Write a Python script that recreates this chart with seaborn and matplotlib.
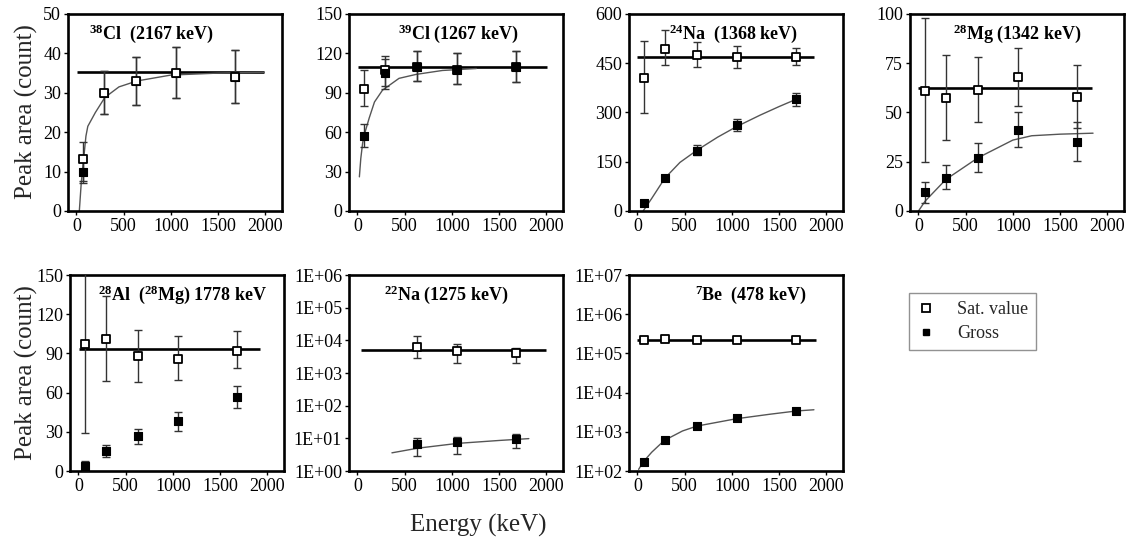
import numpy as np
import seaborn as sns
import matplotlib.pyplot as plt
from matplotlib.lines import Line2D
from matplotlib.ticker import NullLocator

# irradiation energies
energy = [70, 290, 635, 1055, 1685]
energy_na22 = [635, 1055, 1685]

# 38Cl
cl38_sat = [13.3, 30, 33, 35, 34]
cl38_sat_lo = [7, 24.5, 27, 28.7, 27.5]
cl38_sat_hi = [17.5, 35.5, 39, 41.5, 40.8]
cl38_gross = [10, 30, 33, 35, 34]
cl38_gross_lo = [7.5, 24.5, 27, 28.7, 27.5]
cl38_gross_hi = [12.5, 35.5, 39, 41.5, 40.8]
cl38_fit_x = [30, 50, 75, 100, 120, 200, 300, 450, 640, 1000, 1500, 1990]
cl38_fit_y = [0, 7, 13, 19, 21.5, 25, 28.8, 31.5, 33, 34.5, 35, 35.2]

# 39Cl
cl39_sat = [93, 107, 110, 107.5, 110]
cl39_sat_lo = [80, 95, 99, 97, 98]
cl39_sat_hi = [107, 118, 122, 120, 122]
cl39_gross = [57, 105, 110, 107.5, 110]
cl39_gross_lo = [49, 93, 99, 97, 98]
cl39_gross_hi = [66, 116, 122, 120, 122]
cl39_fit_x = [20, 35, 55, 80, 125, 180, 265, 440, 620, 900, 1260]
cl39_fit_y = [26, 40, 52, 60, 71, 83, 92, 101, 104, 107, 108.5]

# 24Na
na24_sat = [404, 492, 474, 468, 468]
na24_sat_lo = [297, 445, 438, 437, 445]
na24_sat_hi = [519, 550, 515, 502, 495]
na24_gross = [25, 100, 183, 262, 340]
na24_gross_lo = [18, 92, 170, 245, 320]
na24_gross_hi = [32, 108, 200, 280, 360]
na24_fit_x = [60, 150, 290, 450, 630, 850, 1050, 1300, 1500, 1720]
na24_fit_y = [0, 38, 100, 148, 185, 225, 257, 292, 318, 345]

# 28Mg
mg28_sat = [61, 57.5, 61.5, 68, 58]
mg28_sat_lo = [25, 36, 45, 53.5, 42]
mg28_sat_hi = [98, 79, 78, 82.5, 74]
mg28_gross = [9.5, 17, 27, 41, 35]
mg28_gross_lo = [4, 11, 20, 32.5, 25.5]
mg28_gross_hi = [14.5, 23.5, 34.5, 50, 45]
mg28_fit_x = [0, 70, 290, 630, 1000, 1200, 1500, 1850]
mg28_fit_y = [0, 5, 16, 27, 36, 38.2, 39, 39.5]

# 28Al (28Mg)
al28_sat = [97, 101, 88, 86, 92]
al28_sat_lo = [29, 69, 68, 70, 79]
al28_sat_hi = [175, 134, 108, 103.5, 107]
al28_gross = [4, 15, 26.5, 38.5, 57]
al28_gross_lo = [1, 10.5, 20.5, 30.5, 48]
al28_gross_hi = [8, 20, 32, 45.5, 65]

# 22Na
na22_sat = [6400, 4800, 4000]
na22_sat_lo = [2950, 2080, 2080]
na22_sat_hi = [13500, 7500, 5700]
na22_gross = [6.7, 7.5, 9.3]
na22_gross_lo = [2.9, 3.3, 4.9]
na22_gross_hi = [10, 11.3, 13.5]
na22_fit_x = [365, 640, 1060, 1500, 1816]
na22_fit_y = [3.6, 5.0, 7.0, 8.6, 9.8]

# 7Be
be7_sat = [2.2e5, 2.35e5, 2.2e5, 2.2e5, 2.2e5]
be7_gross = [169, 610, 1380, 2200, 3440]
be7_fit_x = [12, 60, 150, 283, 477, 630, 1046, 1400, 1685, 1870]
be7_fit_y = [110, 170, 300, 600, 1050, 1400, 2150, 2800, 3400, 3650]

# saturation levels (horizontal lines) and their extent
sat_levels = [35.3, 110, 470, 62.5, 93, 5000, 2.17e5]
sat_spans = [(10, 1990), (10, 2010), (0, 1870), (0, 1840), (10, 1920), (35, 2000), (0, 1890)]

titles = [r'$^{38}$Cl  (2167 keV)', r'$^{39}$Cl (1267 keV)', r'$^{24}$Na  (1368 keV)',
          r'$^{28}$Mg (1342 keV)', r'$^{28}$Al  ($^{28}$Mg) 1778 keV', r'$^{22}$Na (1275 keV)',
          r'$^{7}$Be  (478 keV)']
yticks_list = [[0, 10, 20, 30, 40, 50], [0, 30, 60, 90, 120, 150], [0, 150, 300, 450, 600],
               [0, 25, 50, 75, 100], [0, 30, 60, 90, 120, 150],
               [1e0, 1e1, 1e2, 1e3, 1e4, 1e5, 1e6], [1e2, 1e3, 1e4, 1e5, 1e6, 1e7]]
log_labels_na22 = ['1E+00', '1E+01', '1E+02', '1E+03', '1E+04', '1E+05', '1E+06']
log_labels_be7 = ['1E+02', '1E+03', '1E+04', '1E+05', '1E+06', '1E+07']
xticks = [0, 500, 1000, 1500, 2000]

sns.set_theme(style='ticks')
plt.rcParams['font.family'] = ['Liberation Serif', 'DejaVu Serif']
plt.rcParams['mathtext.default'] = 'regular'

W, H = 1133, 542
fig = plt.figure(figsize=(W / 100, H / 100), dpi=100)

def rect(left, top, right, bottom):
    return [left / W, 1 - bottom / H, (right - left) / W, (bottom - top) / H]

rects = [rect(68, 14, 282, 211), rect(349, 14, 563, 211), rect(629, 14, 843, 211),
         rect(910, 14, 1124, 211), rect(70, 275, 284, 471), rect(349, 275, 563, 471),
         rect(629, 275, 843, 471)]
title_x = [0.10, 0.51, 0.49, 0.50, 0.525, 0.455, 0.57]
title_ha = ['left', 'center', 'center', 'center', 'center', 'center', 'center']

panels = [
    dict(E=energy, sat=cl38_sat, slo=cl38_sat_lo, shi=cl38_sat_hi, gross=cl38_gross,
         glo=cl38_gross_lo, ghi=cl38_gross_hi, fx=cl38_fit_x, fy=cl38_fit_y, gross_top=False),
    dict(E=energy, sat=cl39_sat, slo=cl39_sat_lo, shi=cl39_sat_hi, gross=cl39_gross,
         glo=cl39_gross_lo, ghi=cl39_gross_hi, fx=cl39_fit_x, fy=cl39_fit_y, gross_top=True),
    dict(E=energy, sat=na24_sat, slo=na24_sat_lo, shi=na24_sat_hi, gross=na24_gross,
         glo=na24_gross_lo, ghi=na24_gross_hi, fx=na24_fit_x, fy=na24_fit_y, gross_top=False),
    dict(E=energy, sat=mg28_sat, slo=mg28_sat_lo, shi=mg28_sat_hi, gross=mg28_gross,
         glo=mg28_gross_lo, ghi=mg28_gross_hi, fx=mg28_fit_x, fy=mg28_fit_y, gross_top=False),
    dict(E=energy, sat=al28_sat, slo=al28_sat_lo, shi=al28_sat_hi, gross=al28_gross,
         glo=al28_gross_lo, ghi=al28_gross_hi, fx=None, fy=None, gross_top=False),
    dict(E=energy_na22, sat=na22_sat, slo=na22_sat_lo, shi=na22_sat_hi, gross=na22_gross,
         glo=na22_gross_lo, ghi=na22_gross_hi, fx=na22_fit_x, fy=na22_fit_y, gross_top=False),
    dict(E=energy, sat=be7_sat, slo=None, shi=None, gross=be7_gross,
         glo=None, ghi=None, fx=be7_fit_x, fy=be7_fit_y, gross_top=False),
]

ebar = dict(fmt='none', ecolor='#333333', elinewidth=1.0, capsize=2.8, capthick=1.0)

for i, p in enumerate(panels):
    ax = fig.add_axes(rects[i])
    is_log = i >= 5
    if is_log:
        ax.set_yscale('log')
    E = np.array(p['E'])
    sat = np.array(p['sat'])
    gross = np.array(p['gross'])

    ax.hlines(sat_levels[i], *sat_spans[i], color='black', lw=1.9, zorder=2)
    if p['fx'] is not None:
        sns.lineplot(x=p['fx'], y=p['fy'], sort=False, estimator=None,
                     color='#555555', lw=1.0, ax=ax, zorder=2)
    if p['slo'] is not None:
        ax.errorbar(E, sat, yerr=[sat - np.array(p['slo']), np.array(p['shi']) - sat],
                    zorder=3, **ebar)
    if p['glo'] is not None:
        ax.errorbar(E, gross, yerr=[gross - np.array(p['glo']), np.array(p['ghi']) - gross],
                    zorder=3, **ebar)
    z_sat, z_gross = (4, 5) if p['gross_top'] else (5, 4)
    sns.scatterplot(x=E, y=gross, marker='s', s=26, color='black', edgecolor='black',
                    linewidth=0.8, ax=ax, zorder=z_gross)
    sns.scatterplot(x=E, y=sat, marker='s', s=28, color='white', edgecolor='black',
                    linewidth=1.3, ax=ax, zorder=z_sat)

    ax.set_xlim(-90, 2178)
    ax.set_xticks(xticks)
    ax.set_xticklabels([str(t) for t in xticks])
    yt = yticks_list[i]
    ax.set_ylim(yt[0], yt[-1])
    ax.set_yticks(yt)
    if i == 5:
        ax.set_yticklabels(log_labels_na22)
    elif i == 6:
        ax.set_yticklabels(log_labels_be7)
    else:
        ax.set_yticklabels([str(t) for t in yt])
    if is_log:
        ax.yaxis.set_minor_locator(NullLocator())
    ax.set_xlabel('')
    ax.set_ylabel('')
    ax.tick_params(axis='both', direction='out', length=3, width=1, labelsize=13,
                   pad=2, colors='black')
    for sp in ax.spines.values():
        sp.set_visible(True)
        sp.set_linewidth(1.9)
        sp.set_color('black')
    ax.text(title_x[i], 0.90, titles[i], transform=ax.transAxes, ha=title_ha[i],
            va='center', fontsize=13, fontweight='bold', color='black')

fig.text(26 / W, 1 - 112 / H, 'Peak area (count)', rotation=90, ha='center',
         va='center', fontsize=18)
fig.text(26 / W, 1 - 373 / H, 'Peak area (count)', rotation=90, ha='center',
         va='center', fontsize=18)
fig.text(478 / W, 1 - 525 / H, 'Energy (keV)', ha='center', va='center', fontsize=18)

handles = [Line2D([], [], ls='none', marker='s', ms=5.5, mfc='white', mec='black', mew=1.3),
           Line2D([], [], ls='none', marker='s', ms=5, mfc='black', mec='black')]
leg = fig.legend(handles, ['Sat. value', 'Gross'], loc='upper left',
                 bbox_to_anchor=(909 / W, 1 - 293 / H), borderaxespad=0,
                 fontsize=13, frameon=True, fancybox=False, edgecolor='#777777',
                 handlelength=1.0, handletextpad=1.2, labelspacing=0.4,
                 borderpad=0.45)
leg.get_frame().set_linewidth(1.0)

fig.savefig('out.png', dpi=100)
